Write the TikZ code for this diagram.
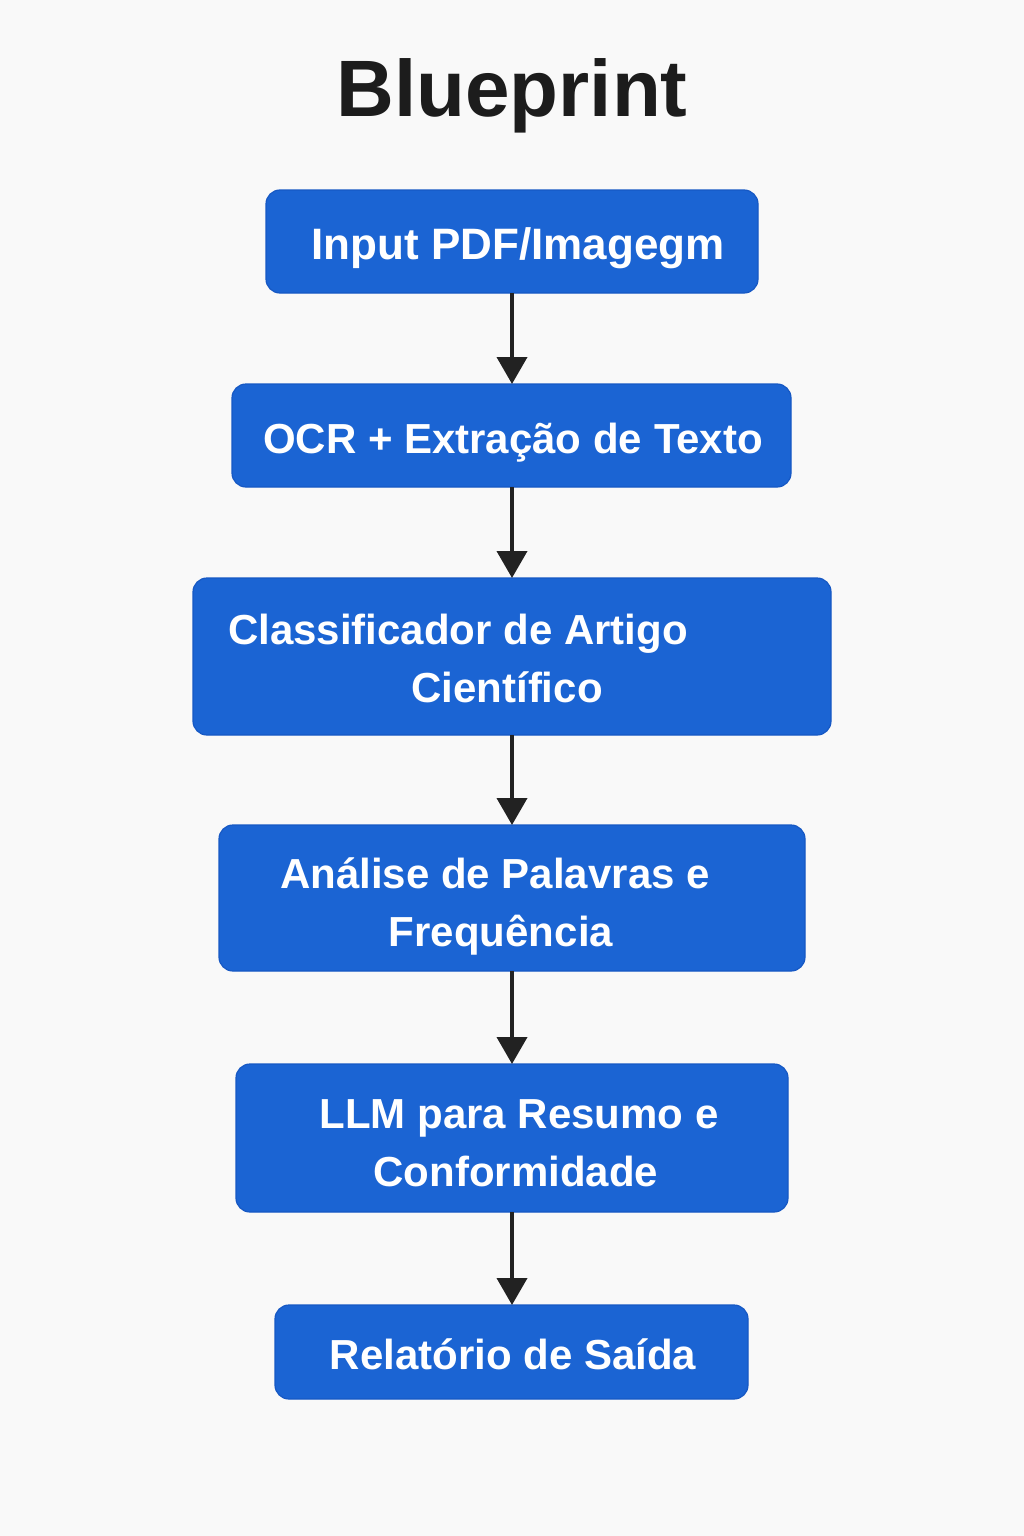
\documentclass[tikz,border=0pt]{standalone}
\usepackage{fontspec}
\setmainfont{Liberation Sans}
\usetikzlibrary{arrows.meta}
\definecolor{bg}{RGB}{249,249,249}
\definecolor{boxblue}{RGB}{27,100,211}
\definecolor{boxedge}{RGB}{22,88,196}
\definecolor{arrowc}{RGB}{34,34,34}
\definecolor{titlec}{RGB}{28,28,28}
\tikzset{
  stepbox/.style={draw=boxedge, line width=1.2pt, fill=boxblue, rounded corners=14pt},
  boxtext/.style={text=white, font=\fontsize{42}{50}\selectfont\bfseries, anchor=base, inner sep=0pt},
  flowarrow/.style={draw=arrowc, line width=4pt, -{Triangle[width=30pt,length=27pt]}}
}
\begin{document}
\begin{tikzpicture}[x=1pt,y=-1pt]
\fill[bg] (0,0) rectangle (1024,1536);
\useasboundingbox (0,0) rectangle (1024,1536);
\node[text=titlec, font=\fontsize{80}{90}\selectfont\bfseries, anchor=base, inner sep=0pt] (title) at (512,117) {Blueprint};

\path[stepbox] (266,190) rectangle (758,293);
\coordinate (b1t) at (512,190); \coordinate (b1b) at (512,293);
\node[boxtext, font=\fontsize{44}{52}\selectfont\bfseries] (t1) at (518,259) {Input PDF/Imagegm};

\path[stepbox] (232,384) rectangle (791,487);
\coordinate (b2t) at (512,384); \coordinate (b2b) at (512,487);
\node[boxtext] (t2) at (513,453) {OCR + Extração de Texto};

\path[stepbox] (193,578) rectangle (831,735);
\coordinate (b3t) at (512,578); \coordinate (b3b) at (512,735);
\node[boxtext] (t3a) at (458,644) {Classificador de Artigo};
\node[boxtext] (t3b) at (507,702) {Científico};

\path[stepbox] (219,825) rectangle (805,971);
\coordinate (b4t) at (512,825); \coordinate (b4b) at (512,971);
\node[boxtext] (t4a) at (495,888) {Análise de Palavras e};
\node[boxtext] (t4b) at (501,946) {Frequência};

\path[stepbox] (236,1064) rectangle (788,1212);
\coordinate (b5t) at (512,1064); \coordinate (b5b) at (512,1212);
\node[boxtext] (t5a) at (519,1128) {LLM para Resumo e};
\node[boxtext] (t5b) at (516,1186) {Conformidade};

\path[stepbox] (275,1305) rectangle (748,1399);
\coordinate (b6t) at (512,1305);
\node[boxtext] (t6) at (513,1369) {Relatório de Saída};

\draw[flowarrow] (b1b) -- (b2t);
\draw[flowarrow] (b2b) -- (b3t);
\draw[flowarrow] (b3b) -- (b4t);
\draw[flowarrow] (b4b) -- (b5t);
\draw[flowarrow] (b5b) -- (b6t);
\end{tikzpicture}
\end{document}
